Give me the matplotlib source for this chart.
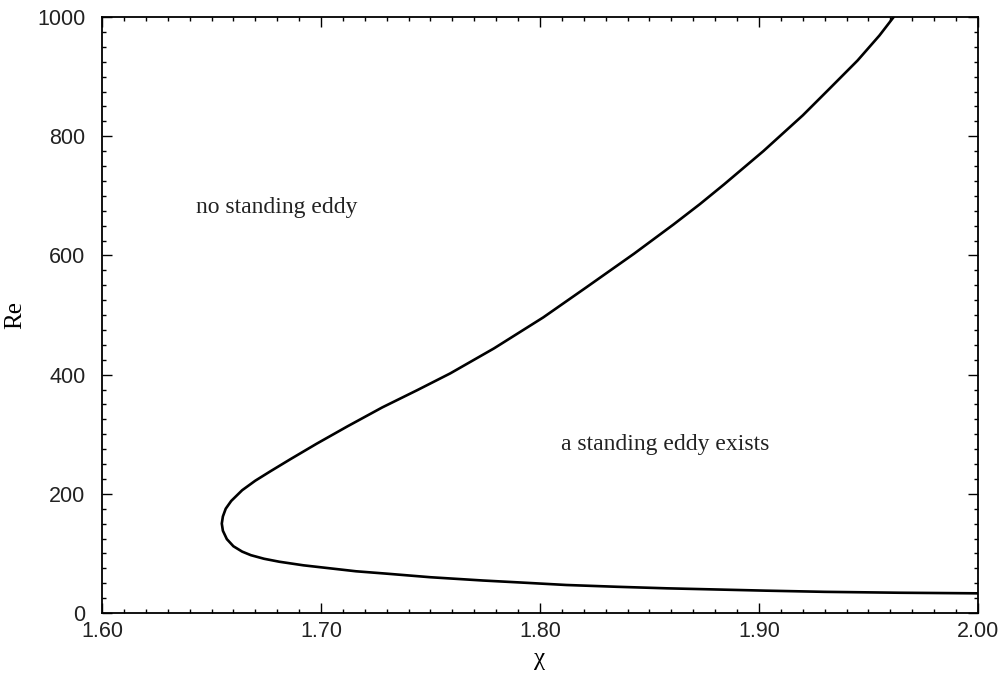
import matplotlib
matplotlib.use("Agg")
import matplotlib.pyplot as plt
from matplotlib.ticker import MultipleLocator, FormatStrFormatter

# Upper branch (from nose up to top edge)
chi_upper = [1.6547, 1.6552, 1.6565, 1.659, 1.664, 1.670, 1.677, 1.686, 1.698,
             1.712, 1.728, 1.744, 1.759, 1.779, 1.8015, 1.821, 1.843, 1.861,
             1.873, 1.884, 1.902, 1.920, 1.932, 1.945, 1.955, 1.9615]
re_upper = [150, 162, 175, 188, 206, 222, 238, 258, 284,
            313, 345, 374, 402, 444, 496, 546, 603, 652,
            686, 719, 775, 835, 879, 927, 969, 1000]
# Lower branch (from nose to right edge)
chi_lower = [1.6547, 1.6552, 1.657, 1.660, 1.664, 1.668, 1.674, 1.681, 1.692,
             1.704, 1.716, 1.730, 1.750, 1.774, 1.792, 1.812, 1.835, 1.858,
             1.880, 1.903, 1.930, 1.964, 2.000]
re_lower = [150, 138, 124, 112, 103, 97, 91, 86, 80,
            75, 70, 66, 60, 54.5, 51, 47, 44, 41.4,
            39.5, 37.5, 35.5, 34, 33]

x_ticks = [1.60, 1.70, 1.80, 1.90, 2.00]
y_ticks = [0, 200, 400, 600, 800, 1000]

text_upper_left = "no standing eddy"
text_lower_right = "a standing eddy exists"

fig = plt.figure(figsize=(10.04, 6.79), dpi=100)
ax = fig.add_axes([102/1004, 1-613/679, (978-102)/1004, (613-17)/679])

chi = chi_upper[::-1] + chi_lower[1:]
re = re_upper[::-1] + re_lower[1:]
ax.plot(chi, re, color="black", lw=1.9, solid_joinstyle="round",
        solid_capstyle="round")

ax.set_xlim(1.60, 2.00)
ax.set_ylim(0, 1000)
ax.set_xticks(x_ticks)
ax.set_yticks(y_ticks)
ax.xaxis.set_major_formatter(FormatStrFormatter("%.2f"))
ax.xaxis.set_minor_locator(MultipleLocator(0.01))
ax.yaxis.set_minor_locator(MultipleLocator(25))
ax.tick_params(which="both", direction="in", top=True, right=True, width=1.0)
ax.tick_params(which="major", length=7)
ax.tick_params(which="minor", length=3)
ax.tick_params(axis="y", pad=12)
ax.tick_params(axis="x", pad=6)
for lab in ax.get_xticklabels() + ax.get_yticklabels():
    lab.set_fontfamily("Liberation Sans")
    lab.set_fontsize(15.5)
    lab.set_color("#222222")
for s in ax.spines.values():
    s.set_linewidth(1.3)

ax.set_xlabel("χ", fontfamily="Liberation Serif", fontsize=18, labelpad=4)
ax.set_ylabel("Re", fontfamily="Liberation Serif", fontsize=18, labelpad=8)

ax.text(1.680, 681, text_upper_left, ha="center", va="center",
        fontfamily="Liberation Serif", fontsize=17, color="#222222")
ax.text(1.857, 283, text_lower_right, ha="center", va="center",
        fontfamily="Liberation Serif", fontsize=17, color="#222222")

fig.savefig("out.png", dpi=100)
